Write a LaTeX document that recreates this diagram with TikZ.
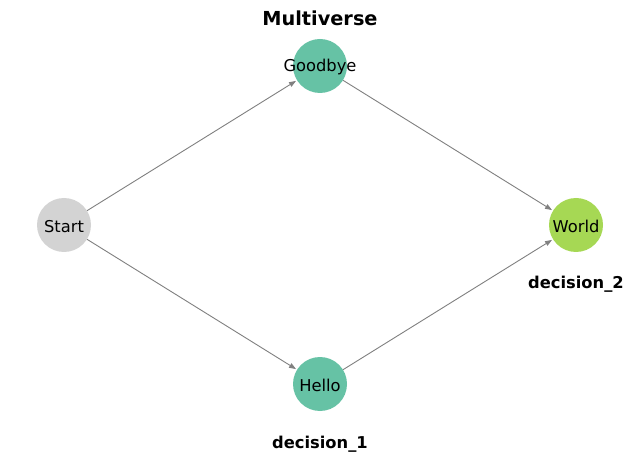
\documentclass[tikz,border=0pt]{standalone}
\usepackage{fontspec}
\setmainfont{DejaVu Sans}
\usetikzlibrary{arrows.meta}
\definecolor{startc}{HTML}{D3D3D3}
\definecolor{teal}{HTML}{66C2A5}
\definecolor{lime}{HTML}{A6D854}
\definecolor{edgec}{HTML}{808080}
\begin{document}
\begin{tikzpicture}[x=1pt,y=-1pt,
  vert/.style={circle,minimum size=54pt,inner sep=0pt},
  vtext/.style={inner sep=0pt,yshift=-1.5pt,font=\fontsize{16.3}{18}\selectfont},
  conn/.style={draw=edgec,line width=0.9pt,-{Triangle[length=7pt,width=5pt]},shorten >=1pt},
  lab/.style={yshift=-1.5pt,font=\bfseries\fontsize{16.3}{18}\selectfont}]
\useasboundingbox (0,0) rectangle (640,462);
\fill[white] (0,0) rectangle (640,462);
\node[font=\bfseries\fontsize{19.3}{22}\selectfont] (title) at (320,18) {Multiverse};
\node[vert,fill=startc] (start) at (64,225) {};
\node[vert,fill=teal] (good) at (320,66) {};
\node[vert,fill=teal] (hello) at (320,384) {};
\node[vert,fill=lime] (world) at (576,225) {};
\node[vtext] (tstart) at (start) {Start};
\node[vtext] (tgood) at (good) {Goodbye};
\node[vtext] (thello) at (hello) {Hello};
\node[vtext] (tworld) at (world) {World};
\node[lab] (d1) at (320,443) {decision\_1};
\node[lab] (d2) at (576,283) {decision\_2};
\draw[conn] (start) -- (good);
\draw[conn] (start) -- (hello);
\draw[conn] (good) -- (world);
\draw[conn] (hello) -- (world);
\end{tikzpicture}
\end{document}
